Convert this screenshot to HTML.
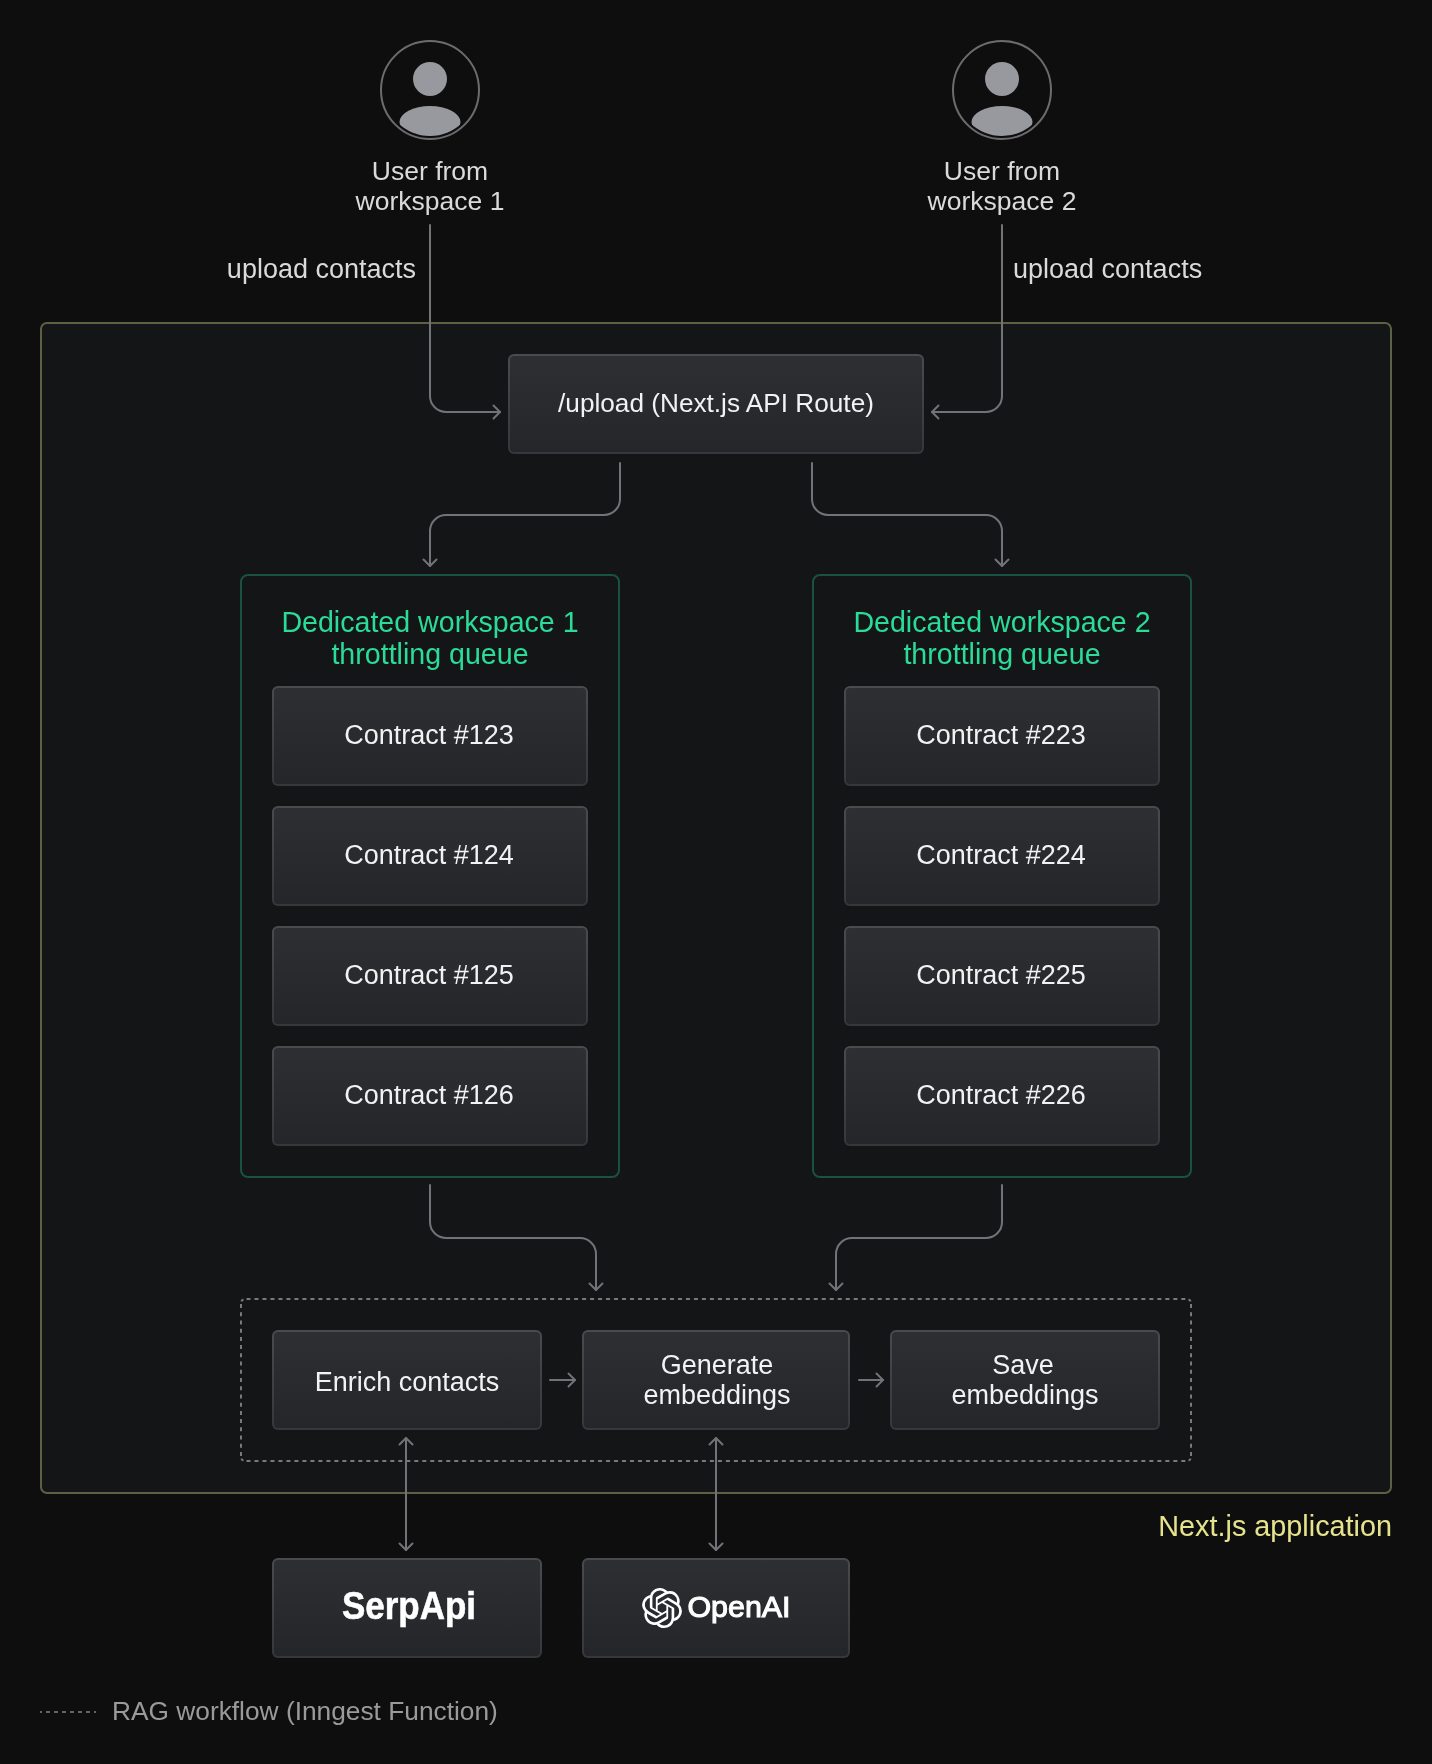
<!DOCTYPE html>
<html><head><meta charset="utf-8">
<style>
html,body{margin:0;padding:0;}
body{width:1432px;height:1764px;background:#0e0e0f;position:relative;overflow:hidden;font-family:"Liberation Sans",sans-serif;}
.abs{position:absolute;}
.app{left:40px;top:322px;width:1348px;height:1168px;border:2px solid #5d6043;border-radius:7px;background:#141517;}
.box{position:absolute;box-sizing:border-box;border:2px solid transparent;border-radius:6px;padding-bottom:2px;background:linear-gradient(#2e2f33,#25262a) padding-box,linear-gradient(#4a4b4f,#36373b) border-box;color:#f2f2f2;display:flex;align-items:center;justify-content:center;text-align:center;font-size:27px;line-height:30px;}
.queue{position:absolute;box-sizing:border-box;border:2px solid #1a5140;border-radius:8px;width:380px;height:604px;top:574px;}
.qt{position:absolute;left:0;width:100%;text-align:center;color:#2bdb98;font-size:28.6px;line-height:32px;top:30px;}
.dash{position:absolute;left:240px;top:1298px;width:952px;height:164px;box-sizing:border-box;border-radius:8px;}
.lbl{position:absolute;color:#dadada;font-size:26.5px;line-height:30px;text-align:center;white-space:nowrap;}
svg{position:absolute;left:0;top:0;}
</style></head><body><div id="wrap" style="position:absolute;left:0;top:0;width:1432px;height:1764px;filter:opacity(1);">
<div class="abs app"></div>

<!-- users -->
<svg width="1432" height="1764" viewBox="0 0 1432 1764">
  <defs>
    <clipPath id="cl1"><circle cx="430" cy="90" r="46"/></clipPath>
    <clipPath id="cl2"><circle cx="1002" cy="90" r="46"/></clipPath>
  </defs>
  <g>
    <circle cx="430" cy="90" r="49" fill="none" stroke="#6c6c6e" stroke-width="2"/>
    <circle cx="430" cy="79" r="17" fill="#98999e"/>
    <ellipse cx="430" cy="122" rx="30.5" ry="16" fill="#98999e" clip-path="url(#cl1)"/>
    <circle cx="1002" cy="90" r="49" fill="none" stroke="#6c6c6e" stroke-width="2"/>
    <circle cx="1002" cy="79" r="17" fill="#98999e"/>
    <ellipse cx="1002" cy="122" rx="30.5" ry="16" fill="#98999e" clip-path="url(#cl2)"/>
  </g>
</svg>

<div class="lbl" style="left:280px;width:300px;top:156px;">User from<br>workspace 1</div>
<div class="lbl" style="left:852px;width:300px;top:156px;">User from<br>workspace 2</div>
<div class="lbl" style="left:200px;width:216px;top:254px;text-align:right;font-size:27px;">upload contacts</div>
<div class="lbl" style="left:1013px;width:300px;top:254px;text-align:left;font-size:27px;">upload contacts</div>

<div class="box" style="left:508px;top:354px;width:416px;height:100px;font-size:26.2px;">/upload (Next.js API Route)</div>

<div class="queue" style="left:240px;"><div class="qt">Dedicated workspace 1<br>throttling queue</div></div>
<div class="queue" style="left:812px;"><div class="qt">Dedicated workspace 2<br>throttling queue</div></div>

<div class="box" style="left:272px;top:686px;width:316px;height:100px;padding-right:2px;">Contract #123</div>
<div class="box" style="left:272px;top:806px;width:316px;height:100px;padding-right:2px;">Contract #124</div>
<div class="box" style="left:272px;top:926px;width:316px;height:100px;padding-right:2px;">Contract #125</div>
<div class="box" style="left:272px;top:1046px;width:316px;height:100px;padding-right:2px;">Contract #126</div>
<div class="box" style="left:844px;top:686px;width:316px;height:100px;padding-right:2px;">Contract #223</div>
<div class="box" style="left:844px;top:806px;width:316px;height:100px;padding-right:2px;">Contract #224</div>
<div class="box" style="left:844px;top:926px;width:316px;height:100px;padding-right:2px;">Contract #225</div>
<div class="box" style="left:844px;top:1046px;width:316px;height:100px;padding-right:2px;">Contract #226</div>

<svg width="1432" height="1764" viewBox="0 0 1432 1764" fill="none" stroke="#727377" stroke-width="2" stroke-linecap="round" stroke-linejoin="round">
  <!-- dashed workflow box -->
  <g stroke="#7a7a7e" stroke-linecap="butt">
  <path d="M246.5 1299 H1186" stroke-dasharray="4 3.99"/>
  <path d="M246.5 1461 H1186" stroke-dasharray="4 3.99"/>
  <path d="M241 1304 V1456" stroke-dasharray="4 4.222"/>
  <path d="M1191 1304 V1456" stroke-dasharray="4 4.222"/>
  <path d="M241.32 1301.44 A4 4 0 0 1 243.44 1299.32"/>
  <path d="M1188.56 1299.32 A4 4 0 0 1 1190.68 1301.44"/>
  <path d="M1190.68 1458.56 A4 4 0 0 1 1188.56 1460.68"/>
  <path d="M243.44 1460.68 A4 4 0 0 1 241.32 1458.56"/>
  </g>
  <!-- legend dash -->
  <line x1="40" y1="1712" x2="96" y2="1712" stroke="#808084" stroke-width="1.6" stroke-dasharray="4 4" stroke-dashoffset="2" stroke-linecap="butt"/>

  <!-- user1 -> upload -->
  <path d="M430 225 V396 A16 16 0 0 0 446 412 H500"/>
  <path d="M493.5 405.5 L500 412 L493.5 418.5"/>
  <!-- user2 -> upload -->
  <path d="M1002 225 V396 A16 16 0 0 1 986 412 H932"/>
  <path d="M938.5 405.5 L932 412 L938.5 418.5"/>
  <!-- upload -> q1 -->
  <path d="M620 463 V499 A16 16 0 0 1 604 515 H446 A16 16 0 0 0 430 531 V566"/>
  <path d="M423.5 559.5 L430 566 L436.5 559.5"/>
  <!-- upload -> q2 -->
  <path d="M812 463 V499 A16 16 0 0 0 828 515 H986 A16 16 0 0 1 1002 531 V566"/>
  <path d="M995.5 559.5 L1002 566 L1008.5 559.5"/>
  <!-- q1 -> workflow -->
  <path d="M430 1185 V1222 A16 16 0 0 0 446 1238 H580 A16 16 0 0 1 596 1254 V1290"/>
  <path d="M589.5 1283.5 L596 1290 L602.5 1283.5"/>
  <!-- q2 -> workflow -->
  <path d="M1002 1185 V1222 A16 16 0 0 1 986 1238 H852 A16 16 0 0 0 836 1254 V1290"/>
  <path d="M829.5 1283.5 L836 1290 L842.5 1283.5"/>
  <!-- step arrows -->
  <path d="M550 1380 H575"/><path d="M568.5 1373.5 L575 1380 L568.5 1386.5"/>
  <path d="M859 1380 H883"/><path d="M876.5 1373.5 L883 1380 L876.5 1386.5"/>
  <!-- serp bidirectional -->
  <path d="M406 1438 V1550"/><path d="M399.5 1444.5 L406 1438 L412.5 1444.5"/><path d="M399.5 1543.5 L406 1550 L412.5 1543.5"/>
  <!-- openai bidirectional -->
  <path d="M716 1438 V1550"/><path d="M709.5 1444.5 L716 1438 L722.5 1444.5"/><path d="M709.5 1543.5 L716 1550 L722.5 1543.5"/>
</svg>

<div class="box" style="left:272px;top:1330px;width:270px;height:100px;padding-bottom:0;padding-top:4px;">Enrich contacts</div>
<div class="box" style="left:582px;top:1330px;width:268px;height:100px;padding-bottom:0;"><div style="position:relative;left:1px;">Generate<br>embeddings</div></div>
<div class="box" style="left:890px;top:1330px;width:270px;height:100px;padding-bottom:0;"><div><span style="position:relative;left:-2px;">Save</span><br>embeddings</div></div>

<div class="box" style="left:272px;top:1558px;width:270px;height:100px;"><span style="font-weight:bold;font-size:35px;color:#fff;display:inline-block;-webkit-text-stroke:0.5px #fff;transform:translate(2px,-0.5px) scaleY(1.09);transform-origin:50% 75%;">SerpApi</span></div>
<div class="box" style="left:582px;top:1558px;width:268px;height:100px;">
  <svg style="position:relative;width:40px;height:40px;margin-right:6px;left:1px;top:1px;" viewBox="0 0 24 24"><path fill="#fff" d="M22.2819 9.8211a5.9847 5.9847 0 0 0-.5157-4.9108 6.0462 6.0462 0 0 0-6.5098-2.9A6.0651 6.0651 0 0 0 4.9807 4.1818a5.9847 5.9847 0 0 0-3.9977 2.9 6.0462 6.0462 0 0 0 .7427 7.0966 5.98 5.98 0 0 0 .511 4.9107 6.051 6.051 0 0 0 6.5146 2.9001A5.9847 5.9847 0 0 0 13.2599 24a6.0557 6.0557 0 0 0 5.7718-4.2058 5.9894 5.9894 0 0 0 3.9977-2.9001 6.0557 6.0557 0 0 0-.7475-7.0729zm-9.022 12.6081a4.4755 4.4755 0 0 1-2.8764-1.0408l.1419-.0804 4.7783-2.7582a.7948.7948 0 0 0 .3927-.6813v-6.7369l2.02 1.1686a.071.071 0 0 1 .038.052v5.5826a4.504 4.504 0 0 1-4.4945 4.4944zm-9.6607-4.1254a4.4708 4.4708 0 0 1-.5346-3.0137l.142.0852 4.783 2.7582a.7712.7712 0 0 0 .7806 0l5.8428-3.3685v2.3324a.0804.0804 0 0 1-.0332.0615L9.74 19.9502a4.4992 4.4992 0 0 1-6.1408-1.6464zM2.3408 7.8956a4.485 4.485 0 0 1 2.3655-1.9728V11.6a.7664.7664 0 0 0 .3879.6765l5.8144 3.3543-2.0201 1.1685a.0757.0757 0 0 1-.071 0l-4.8303-2.7865A4.504 4.504 0 0 1 2.3408 7.872zm16.5963 3.8558L13.1038 8.364 15.1192 7.2a.0757.0757 0 0 1 .071 0l4.8303 2.7913a4.4944 4.4944 0 0 1-.6765 8.1042v-5.6772a.79.79 0 0 0-.407-.667zm2.0107-3.0231l-.142-.0852-4.7735-2.7818a.7759.7759 0 0 0-.7854 0L9.409 9.2297V6.8974a.0662.0662 0 0 1 .0284-.0615l4.8303-2.7866a4.4992 4.4992 0 0 1 6.6802 4.66zM8.3065 12.863l-2.02-1.1638a.0804.0804 0 0 1-.038-.0567V6.0742a4.4992 4.4992 0 0 1 7.3757-3.4537l-.142.0805L8.704 5.459a.7948.7948 0 0 0-.3927.6813zm1.0976-2.3654l2.602-1.4998 2.6069 1.4998v2.9994l-2.5974 1.4997-2.6067-1.4997Z"/></svg>
  <span style="font-size:30.4px;color:#fff;-webkit-text-stroke:1.1px #fff;position:relative;top:-1px;">OpenAI</span>
</div>

<div class="abs" style="left:1101px;width:291px;top:1510px;text-align:right;color:#e6e38c;font-size:28.8px;line-height:32px;white-space:nowrap;">Next.js application</div>
<div class="abs" style="left:112px;top:1696px;color:#9a9a9c;font-size:26.3px;line-height:30px;white-space:nowrap;">RAG workflow (Inngest Function)</div>

</div></body></html>
